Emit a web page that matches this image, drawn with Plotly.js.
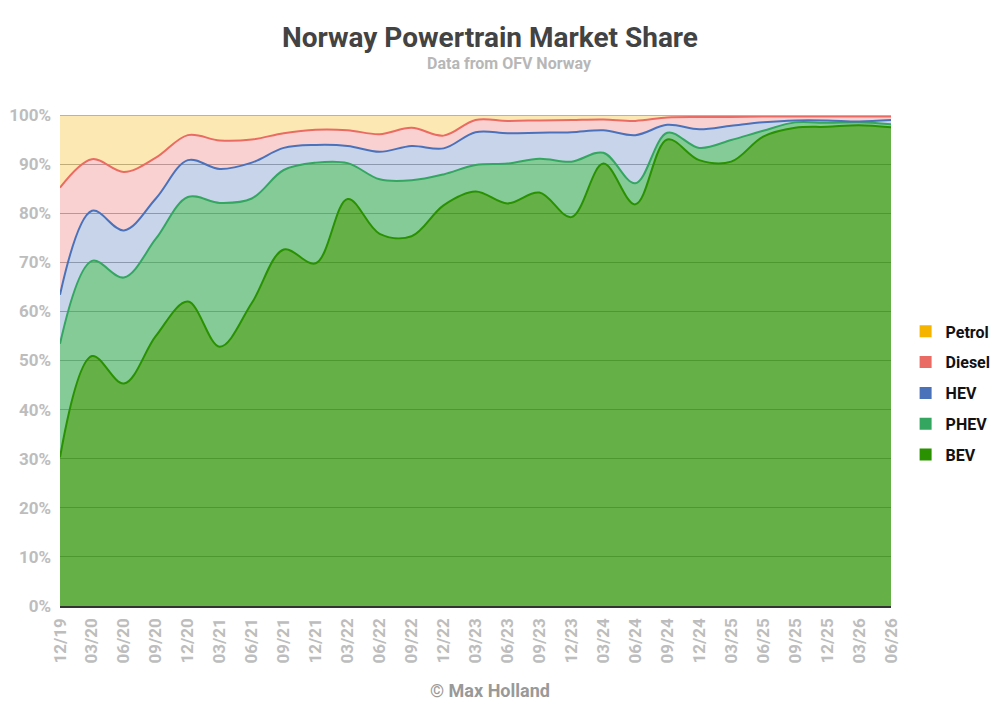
<!DOCTYPE html>
<html>
<head>
<meta charset="utf-8">
<script src="https://cdn.plot.ly/plotly-3.0.1.min.js"></script>
<style>
  html, body { margin: 0; padding: 0; background: #fff; }
  #chart { width: 1004px; height: 711px; }
</style>
</head>
<body>
<div id="chart"></div>
<script>
// quarters
var quarters = ["12/19","03/20","06/20","09/20","12/20","03/21","06/21","09/21","12/21",
                "03/22","06/22","09/22","12/22","03/23","06/23","09/23","12/23",
                "03/24","06/24","09/24","12/24","03/25","06/25","09/25","12/25","03/26","06/26"];

// market share per powertrain, %
var bev    = [30.3,50.9,45.3,55.0,62.0,52.8,61.7,72.6,69.8,82.9,75.8,75.3,81.6,84.4,82.0,84.2,79.2,90.1,81.8,95.0,90.8,90.5,95.6,97.4,97.6,97.9,97.5];
var phev   = [23.1,19.4,21.6,19.8,21.3,29.3,21.3,16.2,20.5, 7.3,11.1,11.4, 6.3, 5.4, 8.1, 6.9,11.3, 2.2, 4.3, 1.4, 2.5, 4.4, 1.2, 1.1, 0.8, 0.6, 0.6];
var hev    = [10.0,10.2, 9.6, 8.2, 7.5, 6.9, 7.3, 4.5, 3.6, 3.5, 5.6, 7.0, 5.3, 6.7, 6.2, 5.3, 6.0, 4.6, 9.8, 1.6, 3.8, 2.9, 1.7, 0.4, 0.5, 0.2, 0.9];
var diesel = [21.8,10.5,11.9, 8.3, 5.1, 5.8, 4.7, 3.0, 3.1, 3.2, 3.6, 3.7, 2.6, 2.5, 2.5, 2.5, 2.5, 2.2, 2.9, 1.5, 2.5, 1.8, 1.2, 0.8, 0.8, 1.0, 0.7];
var petrol = [14.8, 9.0,11.6, 8.7, 4.1, 5.2, 5.0, 3.7, 3.0, 3.1, 3.9, 2.6, 4.2, 1.0, 1.2, 1.1, 1.0, 0.9, 1.2, 0.5, 0.4, 0.4, 0.3, 0.3, 0.3, 0.3, 0.3];

var yTicks = [0,10,20,30,40,50,60,70,80,90,100];

var series = [
  {name: "BEV",    y: bev,    line: "#2a9100", fill: "rgba(42,145,0,0.72)"},
  {name: "PHEV",   y: phev,   line: "#34a660", fill: "rgba(52,168,83,0.6)"},
  {name: "HEV",    y: hev,    line: "#4a72ba", fill: "rgba(74,114,186,0.3)"},
  {name: "Diesel", y: diesel, line: "#ea6b64", fill: "rgba(234,104,98,0.3)"},
  {name: "Petrol", y: petrol, line: "#f4b400", fill: "rgba(244,180,0,0.3)"}
];

var data = [];
for (var i = 0; i < series.length; i++) {
  var s = series[i];
  data.push({
    x: quarters,
    y: s.y,
    name: s.name,
    type: "scatter",
    mode: "lines",
    stackgroup: "share",
    line: {color: s.line, width: 2, shape: "spline", smoothing: 1},
    fillcolor: s.fill,
    showlegend: false,
    hoverinfo: "x+y+name"
  });
}
// legend squares, Petrol on top
for (var j = series.length - 1; j >= 0; j--) {
  data.push({
    x: [quarters[0]],
    y: [null],
    name: series[j].name,
    type: "scatter",
    mode: "markers",
    marker: {symbol: "square", size: 12, color: series[j].line},
    legendgroup: series[j].name,
    showlegend: true
  });
}

var grey = "#bdbdbd";
var layout = {
  width: 1004,
  height: 711,
  margin: {l: 60, r: 113, t: 115, b: 105, autoexpand: false},
  paper_bgcolor: "#fff",
  plot_bgcolor: "#fff",
  font: {family: "Roboto, sans-serif"},
  title: {
    text: "Norway Powertrain Market Share",
    x: 0.488, xref: "container", xanchor: "center",
    y: 0.948, yref: "container", yanchor: "middle",
    font: {family: "Roboto", size: 28, weight: "bold", color: "#434343"}
  },
  xaxis: {
    type: "category",
    range: [0, quarters.length - 1],
    tickangle: -90,
    tickfont: {family: "Roboto", size: 17, weight: "bold", color: grey},
    showgrid: false,
    showline: true,
    linecolor: "#333",
    linewidth: 1.5,
    ticks: "",
    ticklabelstandoff: 4,
    fixedrange: true
  },
  yaxis: {
    range: [0, 100],
    tickvals: yTicks,
    ticktext: yTicks.map(function(v){ return v + "%"; }),
    tickfont: {family: "Roboto", size: 17, weight: "bold", color: grey},
    showgrid: true,
    gridcolor: "#aaaaaa",
    gridwidth: 1,
    zeroline: false,
    showline: false,
    ticks: "",
    ticklabelstandoff: 8,
    fixedrange: true
  },
  legend: {
    x: 0.902, xref: "container", xanchor: "left",
    y: 0.434, yanchor: "middle",
    traceorder: "grouped",
    tracegroupgap: 7,
    itemwidth: 30,
    font: {family: "Roboto", size: 16, weight: "bold", color: "#111"},
    bgcolor: "rgba(0,0,0,0)"
  },
  annotations: [
    {
      text: "Data from OFV Norway",
      xref: "paper", yref: "paper",
      x: 0.5415, y: 1.104, xanchor: "center", yanchor: "middle",
      showarrow: false,
      font: {family: "Roboto", size: 16, weight: "bold", color: "#b7b7b7"}
    },
    {
      text: "© Max Holland",
      xref: "paper", yref: "paper",
      x: 0.5174, y: -0.173, xanchor: "center", yanchor: "middle",
      showarrow: false,
      font: {family: "Roboto", size: 18, weight: "bold", color: "#999"}
    }
  ]
};

Plotly.newPlot("chart", data, layout, {displayModeBar: false, staticPlot: true});
</script>
</body>
</html>
